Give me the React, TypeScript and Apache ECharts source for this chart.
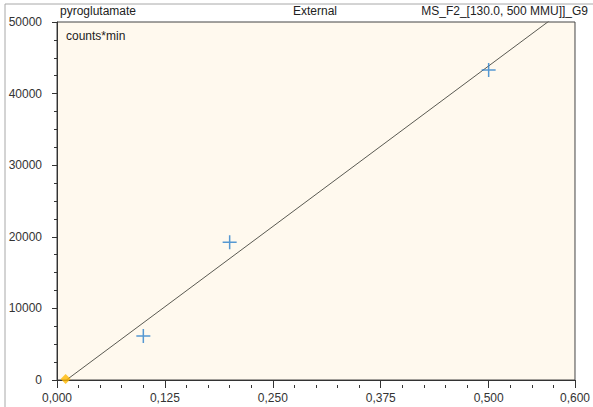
import React, { useEffect, useRef } from "react";
import * as echarts from "echarts";

const calX = [0.1, 0.2, 0.5];
const calY = [6150, 19250, 43300];
const blankX = [0.01];
const blankY = [150];
const fitX = [0.0109, 0.6];
const fitY = [0, 52830];
const xTicks = [0, 0.125, 0.25, 0.375, 0.5, 0.6];
const headerLeft = "pyroglutamate";
const headerMid = "External";
const headerRight = "MS_F2_[130.0, 500 MMU]]_G9";
const unitLabel = "counts*min";

const FONT = "'Liberation Sans', Arial, sans-serif";
const PLUS = "path://M0,6.25h14v1.5h-14z M6.25,0h1.5v14h-1.5z";

export default function App() {
  const ref = useRef<HTMLDivElement>(null);
  useEffect(() => {
    if (!ref.current) return;
    const chart = echarts.init(ref.current, undefined, { renderer: "svg" });
    const axisStyle = { color: "#333", width: 1 };
    chart.setOption({
      animation: false,
      textStyle: { fontFamily: FONT },
      grid: {
        left: 57,
        top: 22,
        right: 17,
        bottom: 27,
        show: true,
        backgroundColor: "#FFF9EE",
        borderColor: "#444",
        borderWidth: 1,
      },
      xAxis: [
        {
          type: "value",
          min: 0,
          max: 0.6,
          interval: 0.125,
          offset: 5,
          position: "bottom",
          axisLine: { show: true, lineStyle: axisStyle },
          axisTick: { show: true, length: 5, lineStyle: axisStyle },
          splitLine: { show: false },
          axisLabel: {
            color: "#333",
            fontSize: 12,
            fontFamily: FONT,
            margin: 7,
            showMaxLabel: true,
            formatter: (v: number) =>
              xTicks.some((t) => Math.abs(t - v) < 1e-9) ? v.toFixed(3).replace(".", ",") : "",
          },
        },
        {
          type: "value",
          min: 0,
          max: 0.6,
          interval: 0.025,
          offset: 5,
          position: "bottom",
          axisLine: { show: false },
          axisTick: { show: true, length: 3, lineStyle: axisStyle },
          splitLine: { show: false },
          axisLabel: { show: false },
        },
      ],
      yAxis: [
        {
          type: "value",
          min: 0,
          max: 50000,
          interval: 10000,
          offset: 5,
          position: "left",
          axisLine: { show: true, lineStyle: axisStyle },
          axisTick: { show: true, length: 5, lineStyle: axisStyle },
          minorTick: { show: true, splitNumber: 4, length: 3, lineStyle: axisStyle },
          splitLine: { show: false },
          axisLabel: {
            color: "#333",
            fontSize: 12,
            fontFamily: FONT,
            margin: 10,
            formatter: (v: number) => String(v),
          },
        },
      ],
      graphic: [
        {
          type: "polyline",
          silent: true,
          shape: { points: [[5, 410], [5, 4], [600, 4]] },
          style: { stroke: "#A8A8A8", lineWidth: 1, fill: "none" },
        },
        {
          type: "text",
          left: 60,
          top: 5,
          style: { text: headerLeft, fill: "#222", fontSize: 12, fontFamily: FONT },
        },
        {
          type: "text",
          left: 293,
          top: 5,
          style: { text: headerMid, fill: "#222", fontSize: 12, fontFamily: FONT },
        },
        {
          type: "text",
          right: 5,
          top: 5,
          style: { text: headerRight, fill: "#222", fontSize: 12, fontFamily: FONT },
        },
        {
          type: "text",
          left: 66,
          top: 30,
          z: 10,
          style: { text: unitLabel, fill: "#222", fontSize: 12, fontFamily: FONT },
        },
      ],
      series: [
        {
          type: "line",
          data: fitX.map((x, i) => [x, fitY[i]]),
          symbol: "none",
          clip: true,
          lineStyle: { color: "#5a5a52", width: 1 },
          z: 2,
        },
        {
          type: "scatter",
          data: calX.map((x, i) => [x, calY[i]]),
          symbol: PLUS,
          symbolSize: 14,
          itemStyle: { color: "#2A7FCB" },
          z: 3,
        },
        {
          type: "scatter",
          data: blankX.map((x, i) => [x, blankY[i]]),
          symbol: "diamond",
          symbolSize: 10,
          itemStyle: { color: "#FFB800" },
          z: 3,
        },
      ],
    });
    return () => chart.dispose();
  }, []);
  return (
    <div
      ref={ref}
      style={{ position: "fixed", left: 0, top: 0, width: 593, height: 407, background: "#fff" }}
    />
  );
}
